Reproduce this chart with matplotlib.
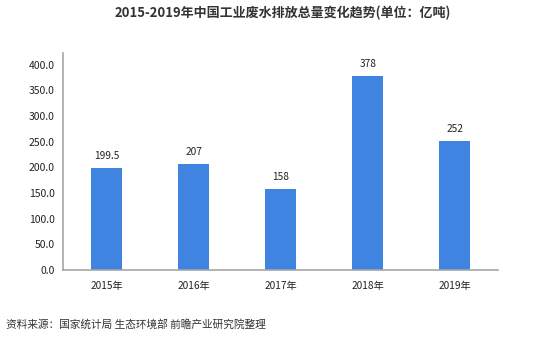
import matplotlib.pyplot as plt

plt.rcParams['font.family'] = ['Noto Sans CJK SC', 'DejaVu Sans']

years = ['2015年', '2016年', '2017年', '2018年', '2019年']
values = [199.5, 207, 158, 378, 252]
value_labels = ['199.5', '207', '158', '378', '252']
yticks = [0, 50, 100, 150, 200, 250, 300, 350, 400]

fig = plt.figure(figsize=(5.53, 3.41), dpi=100)
ax = fig.add_axes([0.114, 0.208, 0.787, 0.637])

x = range(len(years))
bars = ax.bar(x, values, width=0.36, color='#3F84E0')
for b, lab in zip(bars, value_labels):
    ax.annotate(lab, (b.get_x() + b.get_width() / 2, b.get_height()),
                xytext=(0, 5), textcoords='offset points',
                ha='center', va='bottom', fontsize=7.3, color='#222222')

ax.set_xlim(-0.5, 4.5)
ax.set_ylim(0, 423)
ax.set_xticks(list(x))
ax.set_xticklabels(years, fontsize=7.3, color='#222222')
ax.set_yticks(yticks)
ax.set_yticklabels(['%.1f' % v for v in yticks], fontsize=7.5, color='#222222')
ax.tick_params(length=0, pad=6)
ax.tick_params(axis='x', pad=8)

for s in ['top', 'right']:
    ax.spines[s].set_visible(False)
for s in ['left', 'bottom']:
    ax.spines[s].set_color('#A6A6A6')
    ax.spines[s].set_linewidth(1.2)

fig.text(0.512, 0.962, '2015-2019年中国工业废水排放总量变化趋势(单位：亿吨)',
         ha='center', va='center', fontsize=9.4, fontweight='bold', color='#333333')
fig.text(0.01, 0.05, '资料来源：国家统计局 生态环境部 前瞻产业研究院整理',
         ha='left', va='center', fontsize=7.7, color='#333333')

fig.savefig('out.png', dpi=100)
